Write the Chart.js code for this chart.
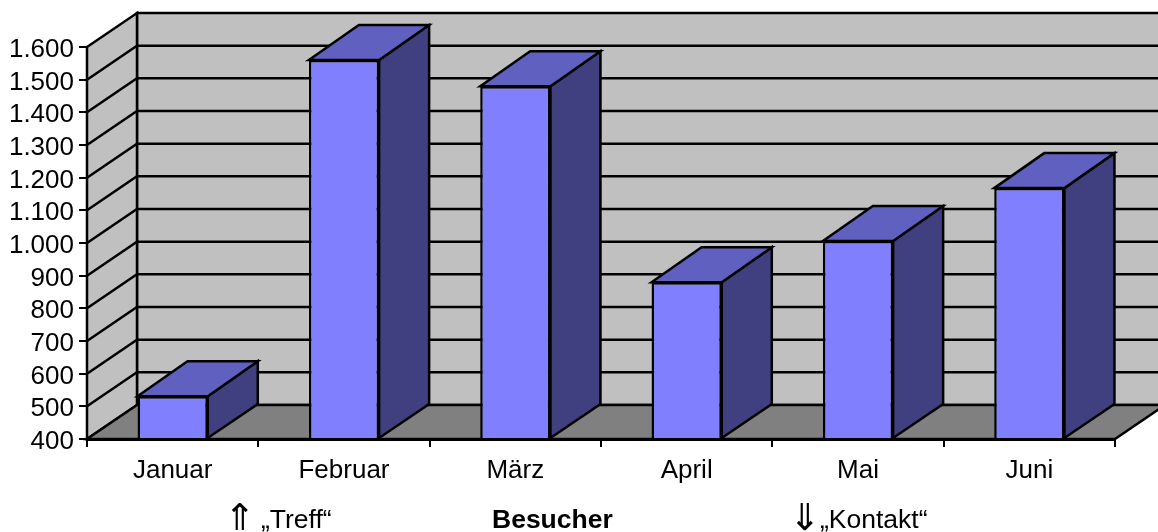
<!DOCTYPE html>
<html lang="de">
<head>
<meta charset="utf-8">
<title>Besucher</title>
<script src="https://cdn.jsdelivr.net/npm/chart.js@4"></script>
<style>
    html, body { margin: 0; padding: 0; background: #fff; overflow: hidden; }
    canvas { display: block; }
</style>
</head>
<body>
<canvas id="chart" width="1158" height="532"></canvas>
<script>
// ========== Daten ==========

const monate = ['Januar', 'Februar', 'März', 'April', 'Mai', 'Juni'];
const besucher = [531, 1560, 1480, 880, 1006, 1168];
const yTicks = [400, 500, 600, 700, 800, 900, 1000, 1100, 1200, 1300, 1400, 1500, 1600];
const fussnoten = [
    { pfeil: '⇑', pfeilX: 224, text: '„Treff“', x: 261, bold: false },
    { pfeil: '', pfeilX: 0, text: 'Besucher', x: 492, bold: true },
    { pfeil: '⇓', pfeilX: 789, text: '„Kontakt“', x: 820, bold: false },
];

// ========== Stil ==========

const FONT = '"Liberation Sans", Arial, sans-serif';
const TIEFE_X = 50;
const TIEFE_Y = 34;
const BALKEN_TIEFE_Y = 35;
const LINIE = 2.5;
const WAND = '#c0c0c0';
const BODEN = '#808080';
const FRONT = '#8080ff';
const OBEN = '#6060c0';
const SEITE = '#404080';

function flaeche(ctx, punkte, farbe) {
    ctx.beginPath();
    punkte.forEach(([x, y], i) => (i ? ctx.lineTo(x, y) : ctx.moveTo(x, y)));
    ctx.closePath();
    ctx.fillStyle = farbe;
    ctx.fill();
    ctx.stroke();
}

// ========== 3D-Plugin: Wände, Boden, Balkenseiten ==========

const raum3d = {
    id: 'raum3d',
    beforeDatasetsDraw(chart) {
        const { ctx, chartArea: a, scales: { y } } = chart;
        ctx.save();
        ctx.lineWidth = LINIE;
        ctx.strokeStyle = '#000';
        ctx.lineJoin = 'miter';

        // Rückwand läuft rechts aus dem Bild
        flaeche(ctx, [
            [a.left + TIEFE_X, a.top - TIEFE_Y], [a.right + TIEFE_X, a.top - TIEFE_Y],
            [a.right + TIEFE_X, a.bottom - TIEFE_Y], [a.left + TIEFE_X, a.bottom - TIEFE_Y],
        ], WAND);
        flaeche(ctx, [
            [a.left, a.top], [a.left + TIEFE_X, a.top - TIEFE_Y],
            [a.left + TIEFE_X, a.bottom - TIEFE_Y], [a.left, a.bottom],
        ], WAND);
        flaeche(ctx, [
            [a.left, a.bottom], [a.right, a.bottom],
            [a.right + TIEFE_X, a.bottom - TIEFE_Y], [a.left + TIEFE_X, a.bottom - TIEFE_Y],
        ], BODEN);

        // Gitterlinien auf Seitenwand und Rückwand
        yTicks.slice(1, -1).forEach(wert => {
            const py = y.getPixelForValue(wert);
            ctx.beginPath();
            ctx.moveTo(a.left, py);
            ctx.lineTo(a.left + TIEFE_X, py - TIEFE_Y);
            ctx.lineTo(a.right + TIEFE_X, py - TIEFE_Y);
            ctx.stroke();
        });

        // Oberseite und rechte Seite der Balken
        chart.getDatasetMeta(0).data.forEach(bar => {
            const links = bar.x - bar.width / 2;
            const rechts = bar.x + bar.width / 2;
            flaeche(ctx, [
                [rechts, bar.y], [rechts + TIEFE_X, bar.y - BALKEN_TIEFE_Y],
                [rechts + TIEFE_X, bar.base - TIEFE_Y], [rechts, bar.base],
            ], SEITE);
            flaeche(ctx, [
                [links, bar.y], [links + TIEFE_X, bar.y - BALKEN_TIEFE_Y],
                [rechts + TIEFE_X, bar.y - BALKEN_TIEFE_Y], [rechts, bar.y],
            ], OBEN);
        });
        ctx.restore();
    },
    afterDraw(chart) {
        const { ctx, scales: { y } } = chart;
        ctx.save();
        ctx.fillStyle = '#000';

        // y-Beschriftung sitzt etwas tiefer als die Chart.js-Mitte
        ctx.font = `26px ${FONT}`;
        ctx.textAlign = 'right';
        ctx.textBaseline = 'alphabetic';
        yTicks.forEach(wert => {
            ctx.fillText(wert.toLocaleString('de-DE'), 74, y.getPixelForValue(wert) + 10);
        });

        ctx.textAlign = 'left';
        fussnoten.forEach(f => {
            ctx.font = `${f.bold ? 'bold ' : ''}26.5px ${FONT}`;
            ctx.fillText(f.text, f.x, 528);
            if (f.pfeil) {
                ctx.font = '37px "DejaVu Sans"';
                ctx.fillText(f.pfeil, f.pfeilX, 530);
            }
        });
        ctx.restore();
    },
};

// ========== Diagramm ==========

new Chart(document.getElementById('chart'), {
    type: 'bar',
    data: {
        labels: monate,
        datasets: [{
            data: besucher,
            base: yTicks[0],
            backgroundColor: FRONT,
            borderColor: '#000',
            borderWidth: LINIE,
            barPercentage: 0.41,
            categoryPercentage: 1,
        }],
    },
    plugins: [raum3d],
    options: {
        responsive: false,
        animation: false,
        layout: { padding: { left: 0, right: 43, top: 47, bottom: 0 } },
        plugins: { legend: { display: false }, tooltip: { enabled: false } },
        scales: {
            x: {
                afterFit: s => { s.height = 93; },
                border: { color: '#000', width: 3 },
                grid: { drawOnChartArea: false, color: '#000', lineWidth: 2, tickLength: 8, offset: true },
                ticks: { color: '#000', font: { family: FONT, size: 26 }, padding: 8, maxRotation: 0 },
            },
            y: {
                min: 400,
                max: 1600,
                afterFit: s => { s.width = 87; },
                afterBuildTicks: s => { s.ticks = yTicks.map(value => ({ value })); },
                border: { color: '#000', width: 3 },
                grid: { drawOnChartArea: false, color: '#000', lineWidth: 2, tickLength: 8 },
                ticks: { display: false },
            },
        },
    },
});
</script>
</body>
</html>
